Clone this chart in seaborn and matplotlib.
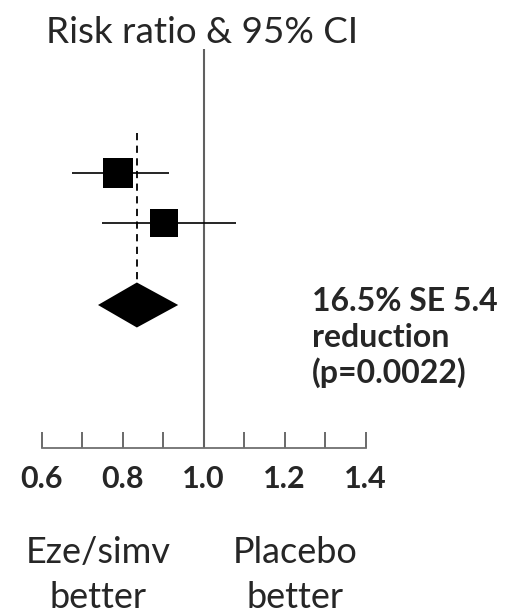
import numpy as np
import pandas as pd
import matplotlib
matplotlib.use("Agg")
import matplotlib.pyplot as plt
import seaborn as sns

# Study results (risk ratio & 95% CI)
studies = ["Study 1", "Study 2"]
rr = [0.788, 0.902]
ci_low = [0.676, 0.749]
ci_high = [0.914, 1.080]
weights = [0.55, 0.45]

# Pooled estimate
pooled_rr = 0.835
pooled_low = 0.739
pooled_high = 0.937

ticks = [0.6, 0.7, 0.8, 0.9, 1.0, 1.1, 1.2, 1.3, 1.4]
tick_labels = ["0.6", "", "0.8", "", "1.0", "", "1.2", "", "1.4"]
title = "Risk ratio & 95% CI"
note_lines = ["16.5% SE 5.4", "reduction", "(p=0.0022)"]
left_label = ["Eze/simv", "better"]
right_label = ["Placebo", "better"]

W, H = 512, 613

sns.set_style("white")
plt.rcParams["font.family"] = ["Lato", "DejaVu Sans"]

df = pd.DataFrame({"study": studies, "rr": rr, "lo": ci_low, "hi": ci_high,
                   "w": weights, "row": np.arange(len(studies))})

fig = plt.figure(figsize=(W / 100, H / 100), dpi=100)
# axes from pixel row 49 (top) to 448 (axis line)
ax = fig.add_axes([0, (H - 448) / H, 1, (448 - 49) / H])
ax.set_xlim(0.6 - 41.7 / 405, 0.6 + (W - 41.7) / 405)
row_px = 50.0
ax.set_ylim((448 - 173) / row_px, (49 - 173) / row_px)

# reference line at 1
ax.axvline(1.0, color="#606060", lw=1.5, zorder=1)

# CI whiskers
ax.hlines(df["row"], df["lo"], df["hi"], color="black", lw=1.2, zorder=2)
sns.scatterplot(data=df, x="rr", y="row", size="w", sizes=(380, 470),
                marker="s", color="black", edgecolor="black", linewidth=0,
                legend=False, ax=ax, zorder=3)

# pooled diamond
yd = (305 - 173) / row_px
hd = 22.5 / row_px
ax.fill([pooled_low, pooled_rr, pooled_high, pooled_rr],
        [yd, yd - hd, yd, yd + hd], color="black", lw=0, zorder=3)
ax.plot([pooled_rr, pooled_rr], [(133 - 173) / row_px, yd - hd],
        color="black", lw=1.3, dashes=(4, 3), zorder=2)

for s in ["top", "left", "right"]:
    ax.spines[s].set_visible(False)
ax.spines["bottom"].set_bounds(0.6, 1.4)
ax.spines["bottom"].set_color("#707070")
ax.spines["bottom"].set_linewidth(1.3)
ax.set_yticks([])
ax.set_xticks(ticks)
ax.set_xticklabels(tick_labels, fontsize=22, fontweight="bold")
ax.tick_params(axis="x", direction="in", length=11.5, width=1.2,
               color="#505050", pad=12, bottom=True)
ax.set_xlabel("")
ax.set_ylabel("")


def px_text(x, y, s, **kw):
    fig.text(x / W, 1 - y / H, s, **kw)


px_text(202, 43, title, fontsize=26.5, ha="center", va="baseline")
for i, line in enumerate(note_lines):
    px_text(312, 311 + 36 * i, line, fontsize=23, fontweight="bold",
            ha="left", va="baseline")
for i, line in enumerate(left_label):
    px_text(98, 563 + 45 * i, line, fontsize=26, ha="center", va="baseline")
for i, line in enumerate(right_label):
    px_text(295, 563 + 45 * i, line, fontsize=26, ha="center", va="baseline")

fig.savefig("out.png", dpi=100)
